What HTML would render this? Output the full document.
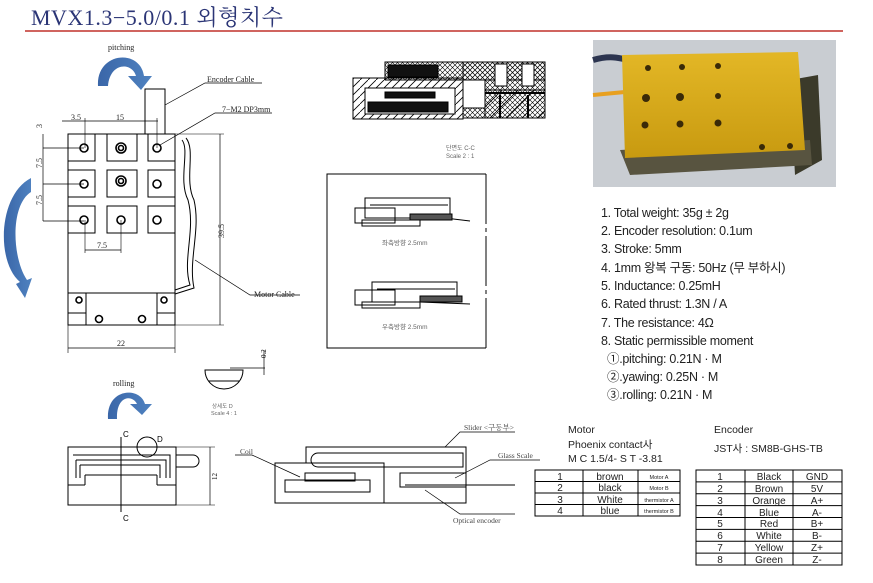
<!DOCTYPE html>
<html><head><meta charset="utf-8">
<style>
html,body{margin:0;padding:0;background:#fff;}
svg{display:block;}
.s{font-family:"Liberation Serif","Noto Serif CJK SC",serif;}
.a{font-family:"Liberation Sans","Noto Sans CJK KR",sans-serif;}
</style></head><body>
<svg width="873" height="583" viewBox="0 0 873 583" xmlns="http://www.w3.org/2000/svg">
<defs>
<pattern id="h1" width="8" height="8" patternUnits="userSpaceOnUse"><path d="M0 8 L8 0" stroke="#000" stroke-width="0.8"/></pattern>
<pattern id="h2" width="5" height="5" patternUnits="userSpaceOnUse"><path d="M0 5 L5 0 M0 0 L5 5" stroke="#000" stroke-width="0.6"/></pattern>
<pattern id="h3" width="16" height="16" patternUnits="userSpaceOnUse"><path d="M0 16 L16 0" stroke="#000" stroke-width="0.8"/></pattern>
<linearGradient id="gold" x1="0" y1="0" x2="0" y2="1"><stop offset="0" stop-color="#e3b726"/><stop offset="1" stop-color="#c89a10"/></linearGradient>
<linearGradient id="bl" x1="0" y1="0" x2="1" y2="0"><stop offset="0" stop-color="#3a66a8"/><stop offset="1" stop-color="#4f82c0"/></linearGradient>
</defs>
<!-- title -->
<text x="31" y="25" class="s" font-size="22" fill="#2b3576" letter-spacing="0.5">MVX1.3−5.0/0.1 외형치수</text>
<line x1="25" y1="31" x2="843" y2="31" stroke="#c0302a" stroke-width="1.5"/>

<g fill="none" stroke="#000" stroke-width="1">
<!-- top view -->
<rect x="68" y="134" width="107" height="191"/>
<line x1="68" y1="293" x2="175" y2="293"/>
<line x1="68" y1="313" x2="86" y2="313"/><line x1="86" y1="293" x2="86" y2="325"/>
<line x1="157" y1="313" x2="175" y2="313"/><line x1="157" y1="293" x2="157" y2="325"/>
<rect x="68" y="134" width="27" height="27"/><rect x="107" y="134" width="30" height="27"/><rect x="148" y="134" width="27" height="27"/>
<rect x="68" y="170" width="27" height="27"/><rect x="107" y="170" width="30" height="27"/><rect x="148" y="170" width="27" height="27"/>
<rect x="68" y="206" width="27" height="27"/><rect x="107" y="206" width="30" height="27"/><rect x="148" y="206" width="27" height="27"/>
<g stroke-width="1.6">
<circle cx="84" cy="148" r="4"/><circle cx="121" cy="148" r="5"/><circle cx="121" cy="148" r="2.5"/><circle cx="157" cy="148" r="4"/>
<circle cx="84" cy="184" r="4"/><circle cx="121" cy="181" r="5"/><circle cx="121" cy="181" r="2.5"/><circle cx="157" cy="184" r="4"/>
<circle cx="84" cy="220" r="4"/><circle cx="121" cy="220" r="4"/><circle cx="157" cy="220" r="4"/>
<circle cx="79" cy="300" r="3"/><circle cx="164" cy="300" r="3"/>
<circle cx="99" cy="319" r="3.5"/><circle cx="142" cy="319" r="3.5"/>
</g>
<rect x="145" y="89" width="20" height="45"/>
<path d="M182 140 C190 150,178 180,188 200 C196 230,182 260,190 285 L175 290" />
<path d="M186 138 C196 150,184 180,194 200 C201 230,188 260,194 288 L175 294" />
<!-- dims -->
<line x1="175" y1="134" x2="224" y2="134" stroke-width="0.6"/><line x1="175" y1="325" x2="224" y2="325" stroke-width="0.6"/>
<line x1="220" y1="134" x2="220" y2="325" stroke-width="0.7"/>
<line x1="68" y1="325" x2="68" y2="353" stroke-width="0.6"/><line x1="175" y1="325" x2="175" y2="353" stroke-width="0.6"/>
<line x1="68" y1="348" x2="175" y2="348" stroke-width="0.7"/>
<line x1="62" y1="121" x2="158" y2="121" stroke-width="0.7"/>
<line x1="85" y1="118" x2="85" y2="148" stroke-width="0.6"/><line x1="157" y1="118" x2="157" y2="148" stroke-width="0.6"/>
<line x1="43" y1="134" x2="43" y2="221" stroke-width="0.7"/>
<line x1="43" y1="148" x2="84" y2="148" stroke-width="0.7"/><line x1="43" y1="184" x2="84" y2="184" stroke-width="0.7"/><line x1="43" y1="221" x2="84" y2="221" stroke-width="0.7"/>
<line x1="85" y1="250" x2="121" y2="250" stroke-width="0.7"/><line x1="85" y1="220" x2="85" y2="253" stroke-width="0.6"/><line x1="121" y1="220" x2="121" y2="253" stroke-width="0.6"/>
<!-- leaders -->
<polyline points="165,105 205,83 262,83" stroke-width="0.7"/>
<polyline points="160,145 215,113 272,113" stroke-width="0.7"/>
<polyline points="195,260 250,295 300,295" stroke-width="0.7"/>
</g>
<g class="s" font-size="8" fill="#222">
<text x="108" y="50">pitching</text>
<text x="207" y="82">Encoder Cable</text>
<text x="222" y="112">7−M2 DP3mm</text>
<text x="254" y="297">Motor Cable</text>
<text x="71" y="120">3.5</text><text x="116" y="120">15</text>
<text x="97" y="248">7.5</text><text x="117" y="346">22</text>
<text transform="translate(42,168) rotate(-90)">7.5</text>
<text transform="translate(42,205) rotate(-90)">7.5</text>
<text transform="translate(42,128) rotate(-90)">3</text>
<text transform="translate(224,238) rotate(-90)">39.5</text>
</g>
<!-- blue arrows -->
<path d="M98 86 C96 52,140 48,144 76 L152 76 L141 90 L128 76 L136 76 C132 62,110 62,108 86 Z" fill="url(#bl)"/>
<path d="M31 178 C-2 195,-4 262,20 282 L16 284 L25 298 L32 278 L27 280 C12 258,10 205,31 192 Z" fill="url(#bl)"/>
<path d="M108 419 C106 388,140 386,145 404 L152 404 L142 415 L130 404 L137 404 C132 394,116 396,117 419 Z" fill="url(#bl)"/>
<text x="113" y="386" class="s" font-size="8" fill="#222">rolling</text>

<!-- section C-C -->
<g stroke="#000" stroke-width="1">
<rect x="385" y="62" width="160" height="18" fill="url(#h2)"/>
<rect x="463" y="62" width="82" height="56" fill="url(#h2)"/>
<rect x="353" y="78" width="110" height="41" fill="url(#h1)"/>
<rect x="365" y="88" width="90" height="26" fill="#fff"/>
<rect x="388" y="65" width="50" height="12" fill="#111"/>
<rect x="385" y="92" width="50" height="6" fill="#111"/>
<rect x="368" y="102" width="80" height="10" fill="#111"/>
<rect x="485" y="90" width="60" height="28" fill="url(#h3)"/>
<rect x="463" y="80" width="22" height="28" fill="#fff"/>
<rect x="495" y="64" width="12" height="22" fill="#fff"/><rect x="522" y="64" width="12" height="22" fill="#fff"/>
<line x1="485" y1="93" x2="545" y2="93" stroke-width="2"/>
<line x1="500" y1="95" x2="500" y2="118" stroke-width="2"/><line x1="528" y1="95" x2="528" y2="118" stroke-width="2"/>
</g>
<text x="446" y="150" class="a" font-size="6" fill="#666">단면도 C-C</text>
<text x="446" y="158" class="a" font-size="6" fill="#666">Scale 2 : 1</text>

<!-- dashed box -->
<path d="M486 174 L327 174 L327 348 L486 348" fill="none" stroke="#000" stroke-width="1"/>
<line x1="486" y1="174" x2="486" y2="348" stroke="#000" stroke-width="1" stroke-dasharray="50,4,4,4"/>
<g fill="none" stroke="#000" stroke-width="1">
<rect x="365" y="198" width="85" height="20"/><rect x="355" y="208" width="40" height="15"/><rect x="362" y="220" width="58" height="6"/>
<line x1="370" y1="205" x2="448" y2="205"/><line x1="420" y1="215" x2="470" y2="221"/><rect x="410" y="214" width="42" height="6" fill="#555"/>
<rect x="372" y="282" width="85" height="20"/><rect x="355" y="290" width="40" height="15"/><rect x="362" y="302" width="58" height="6"/>
<line x1="377" y1="289" x2="455" y2="289"/><line x1="420" y1="302" x2="470" y2="304"/><rect x="420" y="296" width="42" height="6" fill="#555"/>
</g>
<text x="382" y="245" class="a" font-size="6.5" fill="#666">좌측방향 2.5mm</text>
<text x="382" y="329" class="a" font-size="6.5" fill="#666">우측방향 2.5mm</text>

<!-- detail D -->
<path d="M205 370 A19 19 0 0 0 243 370 Z" fill="none" stroke="#000"/>
<line x1="209" y1="381" x2="239" y2="381" stroke="#000"/>
<line x1="230" y1="368" x2="265" y2="368" stroke="#000" stroke-width="0.7"/>
<line x1="264" y1="350" x2="264" y2="375" stroke="#000" stroke-width="0.7"/>
<text transform="translate(266,358) rotate(-90)" class="s" font-size="7">0.2</text>
<text x="212" y="408" class="a" font-size="5.5" fill="#666">상세도 D</text>
<text x="211" y="415" class="a" font-size="5.5" fill="#666">Scale 4 : 1</text>

<!-- front view -->
<g fill="none" stroke="#000" stroke-width="1">
<rect x="68" y="447" width="108" height="58"/>
<line x1="68" y1="485" x2="85" y2="485"/><line x1="85" y1="485" x2="85" y2="475"/><line x1="85" y1="475" x2="157" y2="475"/>
<line x1="157" y1="475" x2="157" y2="485"/><line x1="157" y1="485" x2="176" y2="485"/>
<path d="M73 455 L170 455 L170 478 M76 460 L166 460 L166 478 M80 465 L160 465 L160 478 M76 460 L76 478 M80 465 L80 478"/>
<path d="M176 455 L193 455 A6 6 0 0 1 193 467 L176 467"/>
<circle cx="147" cy="447" r="10"/>
<line x1="121" y1="437" x2="121" y2="512"/>
<line x1="176" y1="447" x2="215" y2="447" stroke-width="0.6"/><line x1="176" y1="505" x2="215" y2="505" stroke-width="0.6"/>
<line x1="210" y1="447" x2="210" y2="505" stroke-width="0.7"/>
</g>
<text x="123" y="437" class="a" font-size="8">C</text><text x="157" y="442" class="a" font-size="8">D</text>
<text x="123" y="521" class="a" font-size="8">C</text>
<text transform="translate(217,480) rotate(-90)" class="s" font-size="7">12</text>

<!-- side view -->
<g fill="none" stroke="#000" stroke-width="1">
<rect x="306" y="447" width="160" height="56"/>
<rect x="275" y="463" width="109" height="40" fill="#fff"/>
<rect x="285" y="480" width="85" height="12"/>
<path d="M318 453 L463 453 L463 467 L318 467 A7 7 0 0 1 318 453"/>
<rect x="305" y="473" width="50" height="8"/>
<rect x="400" y="473" width="66" height="14"/>
<line x1="405" y1="485" x2="515" y2="485"/>
<polyline points="235,455 252,455 300,477" stroke-width="0.7"/>
<polyline points="445,447 460,432 515,432" stroke-width="0.7"/>
<polyline points="455,478 490,460 540,460" stroke-width="0.7"/>
<polyline points="425,490 460,514 515,514" stroke-width="0.7"/>
</g>
<g class="s" font-size="7.5" fill="#444">
<text x="240" y="454">Coil</text>
<text x="464" y="430">Slider &lt;구동부&gt;</text>
<text x="498" y="458">Glass Scale</text>
<text x="453" y="523">Optical encoder</text>
</g>

<!-- photo -->
<rect x="593" y="40" width="243" height="147" fill="#c9cdd2"/>
<path d="M593 60 C610 55,620 58,628 60" stroke="#2c3550" stroke-width="6" fill="none"/>
<path d="M593 95 L625 92" stroke="#e8a020" stroke-width="4"/>
<polygon points="790,80 818,75 822,160 795,175" fill="#3b3a2a"/>
<polygon points="620,150 810,140 812,165 630,175" fill="#585440"/>
<polygon points="622,55 798,52 805,150 625,158" fill="url(#gold)"/>
<g fill="#3a2a08">
<circle cx="648" cy="68" r="3"/><circle cx="682" cy="67" r="3"/><circle cx="718" cy="66" r="3"/>
<circle cx="646" cy="98" r="4"/><circle cx="680" cy="97" r="4"/><circle cx="718" cy="96" r="3"/>
<circle cx="645" cy="125" r="3.5"/><circle cx="680" cy="124" r="3.5"/><circle cx="718" cy="123" r="3.5"/>
<circle cx="762" cy="147" r="3"/><circle cx="790" cy="146" r="3"/>
</g>

<!-- specs -->
<g class="a" font-size="12.5" fill="#222" letter-spacing="-0.3">
<text x="601" y="217">1. Total weight: 35g ± 2g</text>
<text x="601" y="235">2. Encoder resolution: 0.1um</text>
<text x="601" y="253">3. Stroke: 5mm</text>
<text x="601" y="272">4. 1mm 왕복 구동: 50Hz (무 부하시)</text>
<text x="601" y="290">5. Inductance: 0.25mH</text>
<text x="601" y="308">6. Rated thrust: 1.3N / A</text>
<text x="601" y="327">7. The resistance: 4Ω</text>
<text x="601" y="345">8. Static permissible moment</text>
<text x="607" y="363">①.pitching: 0.21N · M</text>
<text x="607" y="381">②.yawing: 0.25N · M</text>
<text x="607" y="399">③.rolling: 0.21N · M</text>
</g>

<!-- motor table -->
<g class="a" fill="#222">
<text x="568" y="433" font-size="10.5">Motor</text>
<text x="568" y="448" font-size="10.5">Phoenix contact사</text>
<text x="568" y="462" font-size="10.5">M C 1.5/4- S T -3.81</text>
<text x="714" y="433" font-size="10.5">Encoder</text>
<text x="714" y="452" font-size="10.5">JST사 : SM8B-GHS-TB</text>
</g>
<g stroke="#000" fill="none" stroke-width="1">
<rect x="535" y="470" width="145" height="46"/>
<line x1="535" y1="481.5" x2="680" y2="481.5"/><line x1="535" y1="493" x2="680" y2="493"/><line x1="535" y1="504.5" x2="680" y2="504.5"/>
<line x1="583" y1="470" x2="583" y2="516"/><line x1="638" y1="470" x2="638" y2="516"/>
<rect x="696" y="470" width="146" height="95"/>
<line x1="696" y1="481.9" x2="842" y2="481.9"/><line x1="696" y1="493.8" x2="842" y2="493.8"/><line x1="696" y1="505.6" x2="842" y2="505.6"/>
<line x1="696" y1="517.5" x2="842" y2="517.5"/><line x1="696" y1="529.4" x2="842" y2="529.4"/><line x1="696" y1="541.2" x2="842" y2="541.2"/><line x1="696" y1="553.1" x2="842" y2="553.1"/>
<line x1="745" y1="470" x2="745" y2="565"/><line x1="793" y1="470" x2="793" y2="565"/>
</g>
<g class="a" font-size="10" fill="#222" text-anchor="middle">
<text x="560" y="480">1</text><text x="610" y="480">brown</text>
<text x="560" y="491">2</text><text x="610" y="491">black</text>
<text x="560" y="503">3</text><text x="610" y="503">White</text>
<text x="560" y="514">4</text><text x="610" y="514">blue</text>
<text x="720" y="480">1</text><text x="769" y="480">Black</text><text x="817" y="480">GND</text>
<text x="720" y="492">2</text><text x="769" y="492">Brown</text><text x="817" y="492">5V</text>
<text x="720" y="504">3</text><text x="769" y="504">Orange</text><text x="817" y="504">A+</text>
<text x="720" y="516">4</text><text x="769" y="516">Blue</text><text x="817" y="516">A-</text>
<text x="720" y="527">5</text><text x="769" y="527">Red</text><text x="817" y="527">B+</text>
<text x="720" y="539">6</text><text x="769" y="539">White</text><text x="817" y="539">B-</text>
<text x="720" y="551">7</text><text x="769" y="551">Yellow</text><text x="817" y="551">Z+</text>
<text x="720" y="563">8</text><text x="769" y="563">Green</text><text x="817" y="563">Z-</text>
</g>
<g class="a" font-size="5.5" fill="#222" text-anchor="middle">
<text x="659" y="479">Motor A</text><text x="659" y="490">Motor B</text>
<text x="659" y="502">thermistor A</text><text x="659" y="513">thermistor B</text>
</g>
</svg>
</body></html>
